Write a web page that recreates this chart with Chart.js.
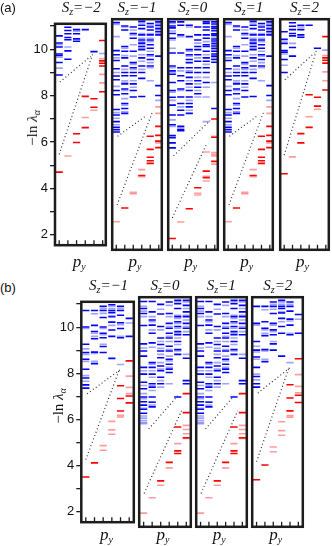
<!DOCTYPE html>
<html><head><meta charset="utf-8">
<script src="https://cdn.jsdelivr.net/npm/chart.js@4"></script>
<style>
body{margin:0;background:#fff;}
#wrap{position:relative;width:332px;height:546px;overflow:hidden;}
canvas{position:absolute;}
.m{position:absolute;font-family:"Liberation Serif","DejaVu Serif",serif;font-style:italic;white-space:nowrap;transform:translateX(-50%);color:#111;}
.m sub{font-size:10px;vertical-align:-3px;}
.ttl{font-size:15px;line-height:15px;}
.py{font-size:17px;line-height:17px;}
.lab{position:absolute;font-family:"Liberation Sans",Arial,sans-serif;font-size:13px;color:#111;}
.yl{position:absolute;font-family:"Liberation Serif",serif;font-size:15px;white-space:nowrap;transform:translate(-50%,-50%) rotate(-90deg);color:#111;}
.yl sub{font-size:10px;vertical-align:-3px;font-style:italic;}
</style></head>
<body><div id="wrap"></div>
<script>
// ---------- data ----------
const xCols = [0, 1, 2, 3, 4, 5];
const yTicks = [2, 3, 4, 5, 6, 7, 8, 9, 10, 11];
const titlesA = ['\u22122', '\u22121', '0', '1', '2'];
const titlesB = ['\u22121', '0', '1', '2'];

// panel (a), S_z = ±2
const a2BlueDark = [[10.58, 10.27, 10.1, 9.8, 9.73, 9.43, 8.89], [10.95, 10.81, 10.67, 10.51, 10.41, 9.93, 9.57], [10.85, 10.67, 10.45, 10.35], [10.85], [9.9], []];
const a2BlueLight = [[10.2, 9.66, 9.19], [10.1], [10.78], [], [], [9.82]];
const a2RedDark = [[4.7], [], [6.36, 5.98], [7.97, 6.62], [7.87, 7.5], [10.38, 9.5, 9.4, 9.28, 8.17]];
const a2RedLight = [[], [5.4], [], [7.06], [7.37], [9.59, 8.92, 8.55]];
const a2Dots = [[0.08, 8.59, 3.63, 9.7], [0, 5.47, 3.86, 9.8]];

// panel (a), S_z = ±1
const a1BlueDark = [[10.96, 9.8, 9.63, 9.39, 9.05, 8.75, 8.59, 8.15, 7.97, 7.36, 7.13, 6.86, 6.62, 6.52, 6.43],
  [10.82, 10.65, 9.97, 9.77, 9.5, 9.16, 8.89, 8.76, 8.42, 8.21, 8.01, 7.61, 7.4, 7.2],
  [10.78, 10.51, 10.31, 9.77, 9.3, 9.09, 8.89, 8.76, 8.42, 8.15, 7.88],
  [11.01, 10.85, 10.71, 10.45, 10.24, 10.11, 9.97, 9.84, 9.5, 9.16, 8.89, 8.65, 7.9],
  [10.92, 10.78, 10.65, 10.45, 10.24, 10.04, 9.9, 9.63, 9.43, 9.16],
  [10.99, 10.85, 10.71, 10.58, 10.45, 9.57, 8.35, 7.94]];
const a1BlueLight = [[10.88, 10.38, 9.5, 8.89, 8.32, 7.23, 7.0, 6.73],
  [10.78, 9.9, 9.59, 9.02, 8.55, 8.48, 8.15, 7.81, 7.54, 7.27],
  [10.65, 10.45, 10.04, 9.57, 9.23, 9.02, 8.55, 8.28],
  [10.94, 10.51, 10.31, 10.17, 10.04, 9.9, 9.63, 9.36, 9.02],
  [10.85, 10.51, 10.31, 10.17, 9.77, 9.57, 9.3, 9.09, 8.55],
  [10.92, 10.78, 10.65, 10.51, 7.74]];
const a1RedDark = [[], [3.28], [], [4.63], [6.25, 5.71, 5.38, 5.24, 5.13], [6.66, 6.29, 6.05, 5.78]];
const a1RedLight = [[2.71], [], [3.93, 3.87], [4.87, 4.58], [], [7.47, 7.2, 5.98]];
const a1Dots = [[0.15, 6.25, 3.5, 7.1], [0.1, 3.41, 4.3, 7.3]];

// panel (a), S_z = 0
const a0BlueDark = [[10.99, 10.82, 10.74, 10.51, 10.31, 9.7, 9.16, 8.96, 8.82, 8.48, 8.15, 7.87, 7.54, 7.13, 6.73, 6.28, 6.19, 5.98, 5.77],
  [10.99, 10.85, 10.45, 9.7, 9.09, 8.76, 8.55, 8.21, 7.88, 7.61, 7.33, 7.13, 6.66, 6.52, 6.48],
  [10.85, 10.38, 9.84, 9.63, 9.43, 9.3, 9.09, 8.89, 8.69, 8.42, 8.15, 7.88, 7.61, 7.47, 7.2],
  [10.78, 10.45, 10.24, 9.97, 9.84, 9.63, 9.36, 9.09, 8.89, 8.55, 8.28, 8.01],
  [10.99, 10.92, 10.78, 10.65, 10.45, 10.31, 10.04, 9.97, 9.77, 9.5, 9.36, 9.09, 8.89, 8.48],
  [10.99, 10.9, 10.8, 10.73, 10.62, 10.5, 10.44, 10.28, 10.2, 10.1, 9.99, 9.9, 9.77, 9.66, 9.57, 9.43, 9.32, 7.4]];
const a0BlueLight = [[10.92, 10.61, 10.24, 9.9, 9.09, 8.89, 8.08, 7.74, 6.93, 6.66],
  [10.38, 8.96, 8.15, 7.47, 6.59],
  [10.78, 9.77, 9.57, 8.96, 8.55, 8.28, 7.74, 7.33],
  [10.11, 9.5, 8.69, 8.42, 8.15, 7.88],
  [10.17, 9.63, 9.23, 8.69, 8.28, 7.88, 6.86],
  [10.95, 10.66, 10.36, 10.05, 9.83, 9.5, 8.48]];
const a0RedDark = [[2.02], [], [3.25], [4.12], [4.81, 4.54], [6.97, 6.21, 5.21]];
const a0RedLight = [[], [2.70], [], [3.89, 3.82], [5.6, 4.59, 4.40], [6.25, 5.58, 5.51, 5.44, 5.10]];
const a0Dots = [[0.15, 5.44, 4.45, 6.9], [0, 2.87, 4.1, 5.98]];

// panel (b), S_z = -1 and 2
const b1BlueDark = [[10.72, 10.01, 9.26, 8.9, 8.61, 8.18, 7.8, 7.5, 7.36],
  [10.72, 10.08, 9.81, 9.5, 8.92, 8.42],
  [10.9, 10.72, 10.42, 10.01, 9.74, 9.54, 9.16, 8.9],
  [10.97, 10.72, 10.63, 10.45, 10.22, 9.88, 9.6, 8.65],
  [10.9, 10.72, 10.52, 10.19, 9.94, 9.54],
  [10.38, 9.6]];
const b1BlueLight = [[9.94, 9.06, 8.82, 8.52, 7.9, 7.66],
  [10.58, 9.74, 9.6, 8.86, 8.52],
  [10.8, 10.6, 9.94, 9.67, 9.26],
  [10.9, 10.8, 10.49, 10.08],
  [10.8, 10.11, 9.6, 8.38],
  [10.18]];
const b1RedDark = [[3.51], [4.12], [], [], [7.46, 6.91, 6.37], [8.54, 7.02, 6.72]];
const b1RedLight = [[], [], [4.87, 4.67], [5.92, 5.55, 5.36], [6.18, 6.11], [7.88, 7.39, 7.12]];
const b1Dots = [[0.15, 7.11, 4.0, 8.17], [0, 4.26, 3.9, 8.2]];

// panel (b), S_z = 0 and 1
const b0BlueDark = [[10.92, 10.63, 10.42, 9.92, 9.16, 8.86, 8.65, 8.18, 7.9, 7.56, 7.29, 6.95, 6.75, 6.61, 6.44, 6.27],
  [10.92, 10.49, 10.15, 9.94, 9.6, 9.2, 8.38, 8.18, 7.9, 7.5, 7.36, 6.95, 6.73, 6.54],
  [10.8, 10.4, 9.88, 9.4, 9.13, 8.86, 8.58, 8.24, 8.04, 7.77, 7.5],
  [10.9, 10.42, 10.01, 9.81, 9.6, 9.4, 9.06, 8.86, 8.52, 8.31, 8.11, 7.97],
  [10.97, 10.83, 10.63, 10.29, 10.08, 9.88, 9.67, 9.54, 9.26, 8.92, 8.72, 6.95],
  [10.97, 10.76, 10.49, 10.29, 10.01, 9.81, 9.54, 8.56, 7.63, 7.5]];
const b0BlueLight = [[10.72, 10.52, 10.29, 8.99, 8.04, 7.43, 7.09, 6.88, 6.48, 6.16, 6.07, 5.97, 5.89, 5.84],
  [10.29, 10.08, 9.74, 9.02, 8.31, 8.04, 7.77, 7.43, 7.22, 6.75, 6.61],
  [10.6, 9.74, 9.26, 8.97, 8.72, 8.38, 8.11, 7.63, 7.36],
  [10.76, 10.29, 9.88, 9.47, 9.26, 8.92, 8.65, 8.45, 8.18, 7.5],
  [10.9, 10.35, 10.22, 10.01, 9.81, 9.6, 9.4, 9.13, 8.86],
  [10.9, 10.63, 10.35, 10.15, 9.88, 9.67, 8.72]];
const b0RedDark = [[], [], [3.46], [4.23], [5.7, 4.71, 4.6], [7.09, 6.30, 5.25]];
const b0RedLight = [[2.12], [2.76], [3.28], [4.0], [5.01], [5.77, 5.6, 5.42, 5.22]];
const b0Dots = [[0.6, 5.62, 4.0, 7.0], [0.06, 2.94, 4.45, 6.38]];

// ---------- drawing ----------
const Y_MIN = 1.55, Y_MAX = 11.1;
const wrap = document.getElementById('wrap');
const BLUE = 'rgba(0,0,255,1)', BLUE_L = 'rgba(70,70,255,0.5)', RED = 'rgba(255,0,0,1)', RED_L = 'rgba(255,60,60,0.5)';

function pts(cols) {
  const out = [];
  cols.forEach((arr, i) => arr.forEach(v => out.push({x: xCols[i], y: v})));
  return out;
}
function dashSet(cols, color) {
  return {data: pts(cols), showLine: false, pointStyle: 'line', pointRadius: 3.6, pointHoverRadius: 3.6,
    borderColor: color, pointBorderColor: color, borderWidth: 1.6, pointBorderWidth: 1.6};
}
function dotSet(s) {
  return {type: 'line', data: [{x: s[0], y: s[1]}, {x: s[2], y: s[3]}], borderColor: '#333', borderWidth: 1.2,
    borderDash: [1, 2.6], pointRadius: 0, fill: false, tension: 0};
}
const framePlugin = {
  id: 'frame',
  afterDatasetsDraw(chart) {
    const {ctx, chartArea: a} = chart;
    const xs = chart.scales.x;
    ctx.save();
    ctx.strokeStyle = '#1c1c1c';
    ctx.lineWidth = 1.3;
    xCols.forEach(c => {
      const px = xs.getPixelForValue(c);
      ctx.beginPath(); ctx.moveTo(px, a.bottom); ctx.lineTo(px, a.bottom - 5); ctx.stroke();
    });
    ctx.lineWidth = 2.5;
    ctx.strokeRect(a.left, a.top, a.right - a.left, a.bottom - a.top);
    ctx.restore();
  }
};

function makeSub(area, xr, spec, withAxis) {
  const axisW = withAxis ? 32 : 0;
  const cl = Math.floor(area.l - axisW - 3), ct = Math.floor(area.t - 3);
  const cw = Math.ceil(area.r + 3) - cl, ch = Math.ceil(area.b + 3) - ct;
  const cv = document.createElement('canvas');
  cv.width = cw; cv.height = ch;
  cv.style.left = cl + 'px'; cv.style.top = ct + 'px';
  cv.style.width = cw + 'px'; cv.style.height = ch + 'px';
  wrap.appendChild(cv);
  const datasets = [dashSet(spec.bl, BLUE_L), dashSet(spec.bd, BLUE), dashSet(spec.rl, RED_L), dashSet(spec.rd, RED)]
    .concat(spec.dots.map(dotSet));
  new Chart(cv, {
    type: 'scatter',
    data: {datasets},
    options: {
      responsive: false, animation: false, events: [], devicePixelRatio: 1,
      plugins: {legend: {display: false}, tooltip: {enabled: false}, title: {display: false}},
      layout: {padding: {left: area.l - axisW - cl, top: area.t - ct, right: cl + cw - area.r, bottom: ct + ch - area.b}},
      scales: {
        x: {type: 'linear', min: xr[0], max: xr[1], display: false},
        y: {type: 'linear', min: Y_MIN, max: Y_MAX, display: withAxis,
          afterBuildTicks: s => { s.ticks = yTicks.map(v => ({value: v})); },
          afterFit: s => { s.width = axisW; },
          border: {display: false},
          grid: {drawOnChartArea: false, drawTicks: true, tickLength: 5, color: '#1c1c1c', lineWidth: 1.3},
          ticks: {callback: v => (v % 2 === 0 ? String(v) : ''), color: '#111', padding: 2,
            font: {family: 'Liberation Sans, Arial, sans-serif', size: 13}}
        }
      }
    },
    plugins: [framePlugin]
  });
}
function addHTML(cls, html, left, top) {
  const d = document.createElement('div');
  d.className = cls; d.innerHTML = html;
  d.style.left = left + 'px'; d.style.top = top + 'px';
  wrap.appendChild(d);
  return d;
}

const specA2 = {bd: a2BlueDark, bl: a2BlueLight, rd: a2RedDark, rl: a2RedLight, dots: a2Dots};
const specA1 = {bd: a1BlueDark, bl: a1BlueLight, rd: a1RedDark, rl: a1RedLight, dots: a1Dots};
const specA0 = {bd: a0BlueDark, bl: a0BlueLight, rd: a0RedDark, rl: a0RedLight, dots: a0Dots};
const specB1 = {bd: b1BlueDark, bl: b1BlueLight, rd: b1RedDark, rl: b1RedLight, dots: b1Dots};
const specB0 = {bd: b0BlueDark, bl: b0BlueLight, rd: b0RedDark, rl: b0RedLight, dots: b0Dots};

// panel (a)
const aLeft = [55, 110.8, 166.6, 222.4, 278.2], aW = 52.5, aTop = 17.5, aBot = 252;
const aSpecs = [specA2, specA1, specA0, specA1, specA2];
aLeft.forEach((l, i) => {
  makeSub({l, r: l + aW, t: aTop, b: aBot}, [-0.48, 5.36], aSpecs[i], i === 0);
  addHTML('m ttl', '<span style="font-style:italic">S</span><sub>z</sub>=' + titlesA[i], l + aW / 2, 0);
  addHTML('m py', 'p<sub>y</sub>', l + aW / 2 - 2, 253);
});
// panel (b)
const bLeft = [81.3, 137.7, 194.1, 250.5], bW = 54.5, bTop = 295, bBot = 529;
const bSpecs = [specB1, specB0, specB0, specB1];
bLeft.forEach((l, i) => {
  makeSub({l, r: l + bW, t: bTop, b: bBot}, [-0.52, 5.53], bSpecs[i], i === 0);
  addHTML('m ttl', '<span style="font-style:italic">S</span><sub>z</sub>=' + titlesB[i], l + bW / 2, 278);
  addHTML('m py', 'p<sub>y</sub>', l + bW / 2 - 2, 526);
});
addHTML('lab', '(a)', 0, 0);
addHTML('lab', '(b)', 0, 280);
addHTML('yl', '\u2212ln <i>\u03bb</i><sub>\u03b1</sub>', 33, 128);
addHTML('yl', '\u2212ln <i>\u03bb</i><sub>\u03b1</sub>', 59, 406);
</script></body></html>
